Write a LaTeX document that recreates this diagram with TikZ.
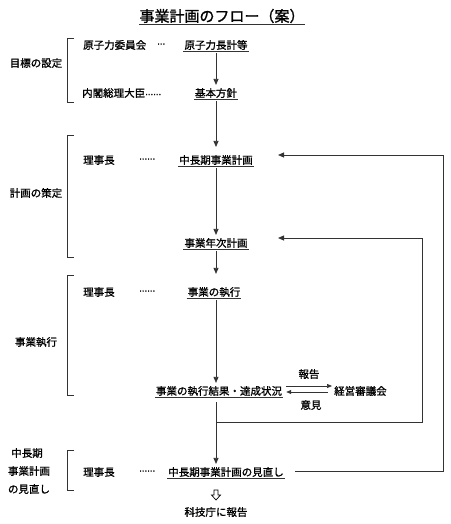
\documentclass[tikz,border=0pt]{standalone}
\usepackage{fontspec}
\setmainfont{Noto Sans CJK JP}[FakeBold=1.2]
\newfontfamily\dotfont{DejaVu Sans}[FakeBold=1.2]
\newcommand{\mydots}[1]{{\dotfont\fontsize{8}{10}\selectfont #1}}
\usetikzlibrary{arrows.meta}
\begin{document}
\begin{tikzpicture}[x=1pt,y=-1pt,
  every node/.style={inner sep=0pt,font=\fontsize{10.5}{12}\selectfont},
  tx/.style={inner xsep=1pt,inner ysep=3pt},
  ln/.style={draw=black!80,line width=0.8pt},
  arr/.style={ln,-{Triangle[length=6pt,width=5pt]}},
  sarr/.style={ln,line width=0.7pt,-{Triangle[length=5pt,width=4pt]}},
  br/.style={draw=black!80,line width=0.8pt},
  ul/.style={draw=black!80,line width=0.6pt}]
\useasboundingbox (0,0) rectangle (450,524);
% title
\node[font=\fontsize{15}{17}\selectfont] (title) at (222,16) {事業計画のフロー（案）};
\draw[ul,line width=0.8pt] ([yshift=-1pt]title.south west) -- ([yshift=-1pt]title.south east);
% brackets and labels
\draw[br] (74,38) -- (67,38) -- (67,102) -- (74,102);
\node (l1) at (36,63) {目標の設定};
\draw[br] (74,135) -- (67,135) -- (67,257) -- (74,257);
\node (l2) at (36,193) {計画の策定};
\draw[br] (74,275) -- (67,275) -- (67,395) -- (74,395);
\node (l3) at (36,342) {事業執行};
\draw[br] (74,450) -- (67,450) -- (67,490) -- (74,490);
\node (l4a) at (27,453) {中長期};
\node (l4b) at (29,471) {事業計画};
\node (l4c) at (29,489) {の見直し};
% row 1
\node[anchor=west] (w1) at (83,45) {原子力委員会};
\node[anchor=west] (d1) at (157,45) {\mydots{⋯}};
\node[tx] (choukei) at (216,45) {原子力長計等};
% row 2
\node[anchor=west] (w2) at (82,93) {内閣総理大臣\mydots{⋯⋯}};
\node[tx] (kihon) at (216,93) {基本方針};
% row 3
\node[anchor=west] (w3) at (83,160) {理事長};
\node[anchor=west] (d3) at (139,160) {\mydots{⋯⋯}};
\node[tx] (chuki) at (216,160) {中長期事業計画};
% row 4
\node[tx] (nenji) at (216,243) {事業年次計画};
% row 5
\node[anchor=west] (w5) at (83,292) {理事長};
\node[anchor=west] (d5) at (139,292) {\mydots{⋯⋯}};
\node[tx] (shikko) at (214,292) {事業の執行};
% row 6
\node[tx] (kekka) at (219,391) {事業の執行結果・達成状況};
\node[tx,anchor=west] (keiei) at (333,391) {経営審議会};
\node (hokoku) at (309,374) {報告};
\node (iken) at (311,405) {意見};
% row 7
\node[anchor=west] (w7) at (83,472) {理事長};
\node[anchor=west] (d7) at (139,472) {\mydots{⋯⋯}};
\node[tx] (minaoshi) at (226,472) {中長期事業計画の見直し};
\node (kagi) at (216,512) {科技庁に報告};
% underlines
\foreach \n in {choukei,kihon,chuki,nenji,shikko,kekka,minaoshi}{
  \draw[ul] ([yshift=1.5pt]\n.south west) -- ([yshift=1.5pt]\n.south east);
}
% main arrows
\draw[arr] (choukei.south) -- (kihon.north);
\draw[arr,shorten >=5pt] (kihon.south) -- (kihon.south |- chuki.north);
\draw[arr] (chuki.south) -- (chuki.south |- nenji.north);
\draw[arr,shorten >=10pt] (nenji.south) -- (nenji.south |- shikko.north);
\draw[arr] (nenji.south |- shikko.south) -- (nenji.south |- kekka.north);
\coordinate (jn) at (216,422);
\draw[ln] ([yshift=-3pt]kekka.south -| jn) -- (jn);
\draw[arr] (jn) -- (jn |- minaoshi.north);
% double arrows
\draw[sarr] ([xshift=3pt,yshift=5pt]kekka.east) -- ([xshift=-1pt,yshift=5pt]keiei.west);
\draw[sarr] ([xshift=-5pt,yshift=-1pt]keiei.west) -- ([xshift=3pt,yshift=-1pt]kekka.east);
% feedback loops
\coordinate (c1) at (443,471);
\coordinate (c2) at (443,155);
\coordinate (e1) at (278,155);
\draw[arr] ([xshift=10pt,yshift=1pt]minaoshi.east) -- (c1) -- (c2) -- (e1);
\coordinate (c3) at (422,422);
\coordinate (c4) at (422,238);
\coordinate (e2) at (278,238);
\draw[arr] (jn) -- (c3) -- (c4) -- (e2);
% hollow down arrow
\draw[draw=black,line width=0.7pt] (214,490) -- (218,490) -- (218,495) -- (220.5,495) -- (216,500) -- (211.5,495) -- (214,495) -- cycle;
\end{tikzpicture}
\end{document}
